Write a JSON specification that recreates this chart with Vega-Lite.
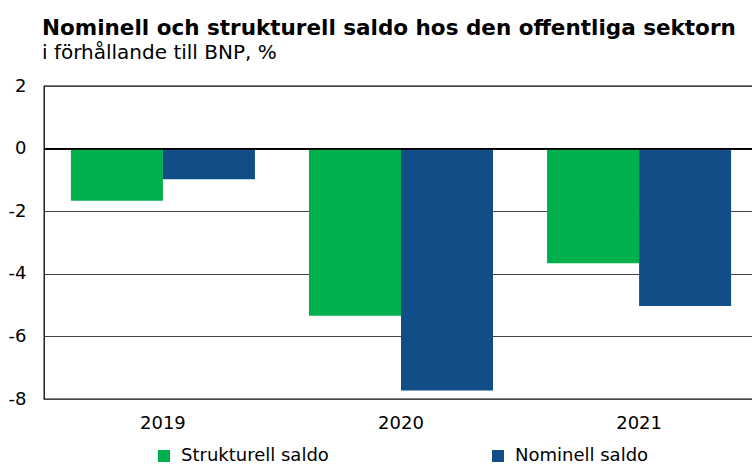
{
  "$schema": "https://vega.github.io/schema/vega-lite/v6.json",
  "width": 714,
  "height": 313,
  "autosize": {"type": "none"},
  "padding": {"left": 44, "top": 86, "right": -6, "bottom": 66},
  "background": "white",
  "config": {
    "font": "DejaVu Sans",
    "view": {"stroke": "#000", "strokeWidth": 1.3}
  },
  "title": {
    "text": "Nominell och strukturell saldo hos den offentliga sektorn",
    "subtitle": "i förhållande till BNP, %",
    "anchor": "start",
    "frame": "group",
    "orient": "top",
    "offset": 14,
    "dx": -2,
    "font": "DejaVu Sans",
    "fontSize": 21.5,
    "fontWeight": "bold",
    "color": "#000",
    "subtitleFont": "DejaVu Sans",
    "subtitleFontSize": 20,
    "subtitleColor": "#000",
    "subtitlePadding": 4
  },
  "data": {
    "values": [
      {"year": "2019", "serie": "Strukturell saldo", "value": -1.67},
      {"year": "2019", "serie": "Nominell saldo", "value": -0.98},
      {"year": "2020", "serie": "Strukturell saldo", "value": -5.34},
      {"year": "2020", "serie": "Nominell saldo", "value": -7.73},
      {"year": "2021", "serie": "Strukturell saldo", "value": -3.66},
      {"year": "2021", "serie": "Nominell saldo", "value": -5.03}
    ]
  },
  "layer": [
    {
      "mark": {"type": "bar", "cornerRadius": 0},
      "encoding": {
        "x": {
          "field": "year",
          "type": "nominal",
          "scale": {"paddingInner": 0.227, "paddingOuter": 0.113},
          "axis": {
            "title": null,
            "labelAngle": 0,
            "ticks": false,
            "domain": false,
            "labelFontSize": 18,
            "labelColor": "#000",
            "labelPadding": 15
          }
        },
        "xOffset": {"field": "serie", "type": "nominal", "sort": ["Strukturell saldo", "Nominell saldo"], "scale": {"paddingInner": 0, "paddingOuter": 0}},
        "y": {
          "field": "value",
          "type": "quantitative",
          "scale": {"domain": [-8, 2], "nice": false},
          "axis": {
            "title": null,
            "values": [-8, -6, -4, -2, 0, 2],
            "labelExpr": "datum.value + ''",
            "ticks": false,
            "domain": false,
            "grid": true,
            "gridColor": "#444",
            "gridWidth": 1,
            "labelFontSize": 18,
            "labelColor": "#000",
            "labelPadding": 18
          }
        },
        "color": {
          "field": "serie",
          "type": "nominal",
          "sort": ["Strukturell saldo", "Nominell saldo"],
          "scale": {"domain": ["Strukturell saldo", "Nominell saldo"], "range": ["#00b04c", "#114d87"]},
          "legend": {
            "title": null,
            "orient": "none",
            "direction": "horizontal",
            "legendX": 111,
            "legendY": 361,
            "symbolType": "square",
            "symbolSize": 144,
            "symbolStrokeWidth": 0,
            "labelFontSize": 18,
            "labelColor": "#000",
            "labelLimit": 300,
            "columnPadding": 160,
            "labelOffset": 8
          }
        }
      }
    },
    {
      "mark": {"type": "rule", "color": "#000", "strokeWidth": 1.3},
      "encoding": {"y": {"datum": 0, "type": "quantitative"}}
    }
  ]
}
